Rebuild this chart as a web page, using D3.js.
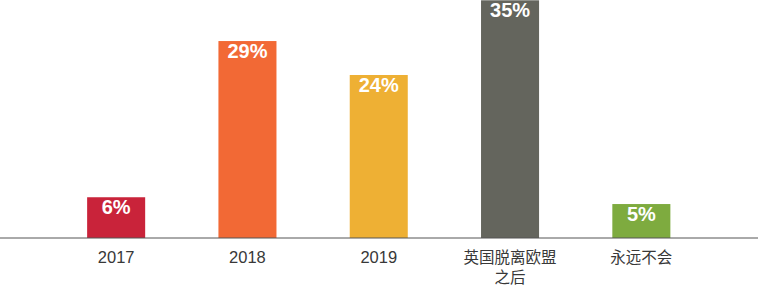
<!DOCTYPE html>
<html>
<head>
<meta charset="utf-8">
<script src="https://d3js.org/d3.v7.min.js"></script>
<style type="text/css">
    body { margin: 0; background: #fff; }
</style>
</head>
<body>
<div id="chart"></div>
<script type="text/javascript">
    var categories = ['2017', '2018', '2019', '英国脱离欧盟之后', '永远不会'];
    var catLines = [['2017'], ['2018'], ['2019'], ['英国脱离欧盟', '之后'], ['永远不会']];
    var values = [6, 29, 24, 35, 5];
    var colors = ['#c9233a', '#f26935', '#eeb034', '#64655d', '#7eab3f'];

    var width = 758, height = 290;
    var baseY = 238;

    var svg = d3.select('#chart').append('svg')
        .attr('width', width)
        .attr('height', height);

    // x scale
    var x = d3.scaleBand()
        .domain(categories)
        .range([50.5, 707])
        .paddingInner(0.558)
        .paddingOuter(0.279);

    // y scale : 35% reaches the top
    var y = d3.scaleLinear()
        .domain([0, 35])
        .range([baseY, 0.3]);

    svg.selectAll('rect.bar')
        .data(values)
        .enter().append('rect')
            .attr('class', 'bar')
            .attr('x', function(d, i) { return x(categories[i]); })
            .attr('width', x.bandwidth())
            .attr('y', function(d) { return y(d); })
            .attr('height', function(d) { return baseY - y(d); })
            .style('fill', function(d, i) { return colors[i]; });

    // value labels
    svg.selectAll('text.val')
        .data(values)
        .enter().append('text')
            .attr('class', 'val')
            .attr('x', function(d, i) { return x(categories[i]) + x.bandwidth() / 2; })
            .attr('y', function(d) { return y(d) + 17; })
            .attr('text-anchor', 'middle')
            .style('fill', '#fff')
            .style('font-family', 'Liberation Sans, Arial, sans-serif')
            .style('font-weight', 'bold')
            .style('font-size', '20px')
            .text(function(d) { return d + '%'; });

    // axis line
    svg.append('line')
        .attr('x1', 0).attr('x2', width)
        .attr('y1', baseY).attr('y2', baseY)
        .style('stroke', '#555')
        .style('stroke-width', 1);

    // category labels
    var cat = svg.selectAll('text.cat')
        .data(catLines)
        .enter().append('text')
            .attr('class', 'cat')
            .attr('x', function(d, i) { return x(categories[i]) + x.bandwidth() / 2; })
            .attr('y', 263)
            .attr('text-anchor', 'middle')
            .style('fill', '#383838')
            .style('font-family', 'Liberation Sans, "Noto Sans CJK SC", sans-serif')
            .style('font-size', function(d) { return /^\d+$/.test(d[0]) ? '16.5px' : '15.5px'; });

    cat.selectAll('tspan')
        .data(function(d) { return d; })
        .enter().append('tspan')
            .attr('x', function() { return d3.select(this.parentNode).attr('x'); })
            .attr('dy', function(d, i) { return i === 0 ? 0 : 20; })
            .text(function(d) { return d; });
</script>
</body>
</html>
